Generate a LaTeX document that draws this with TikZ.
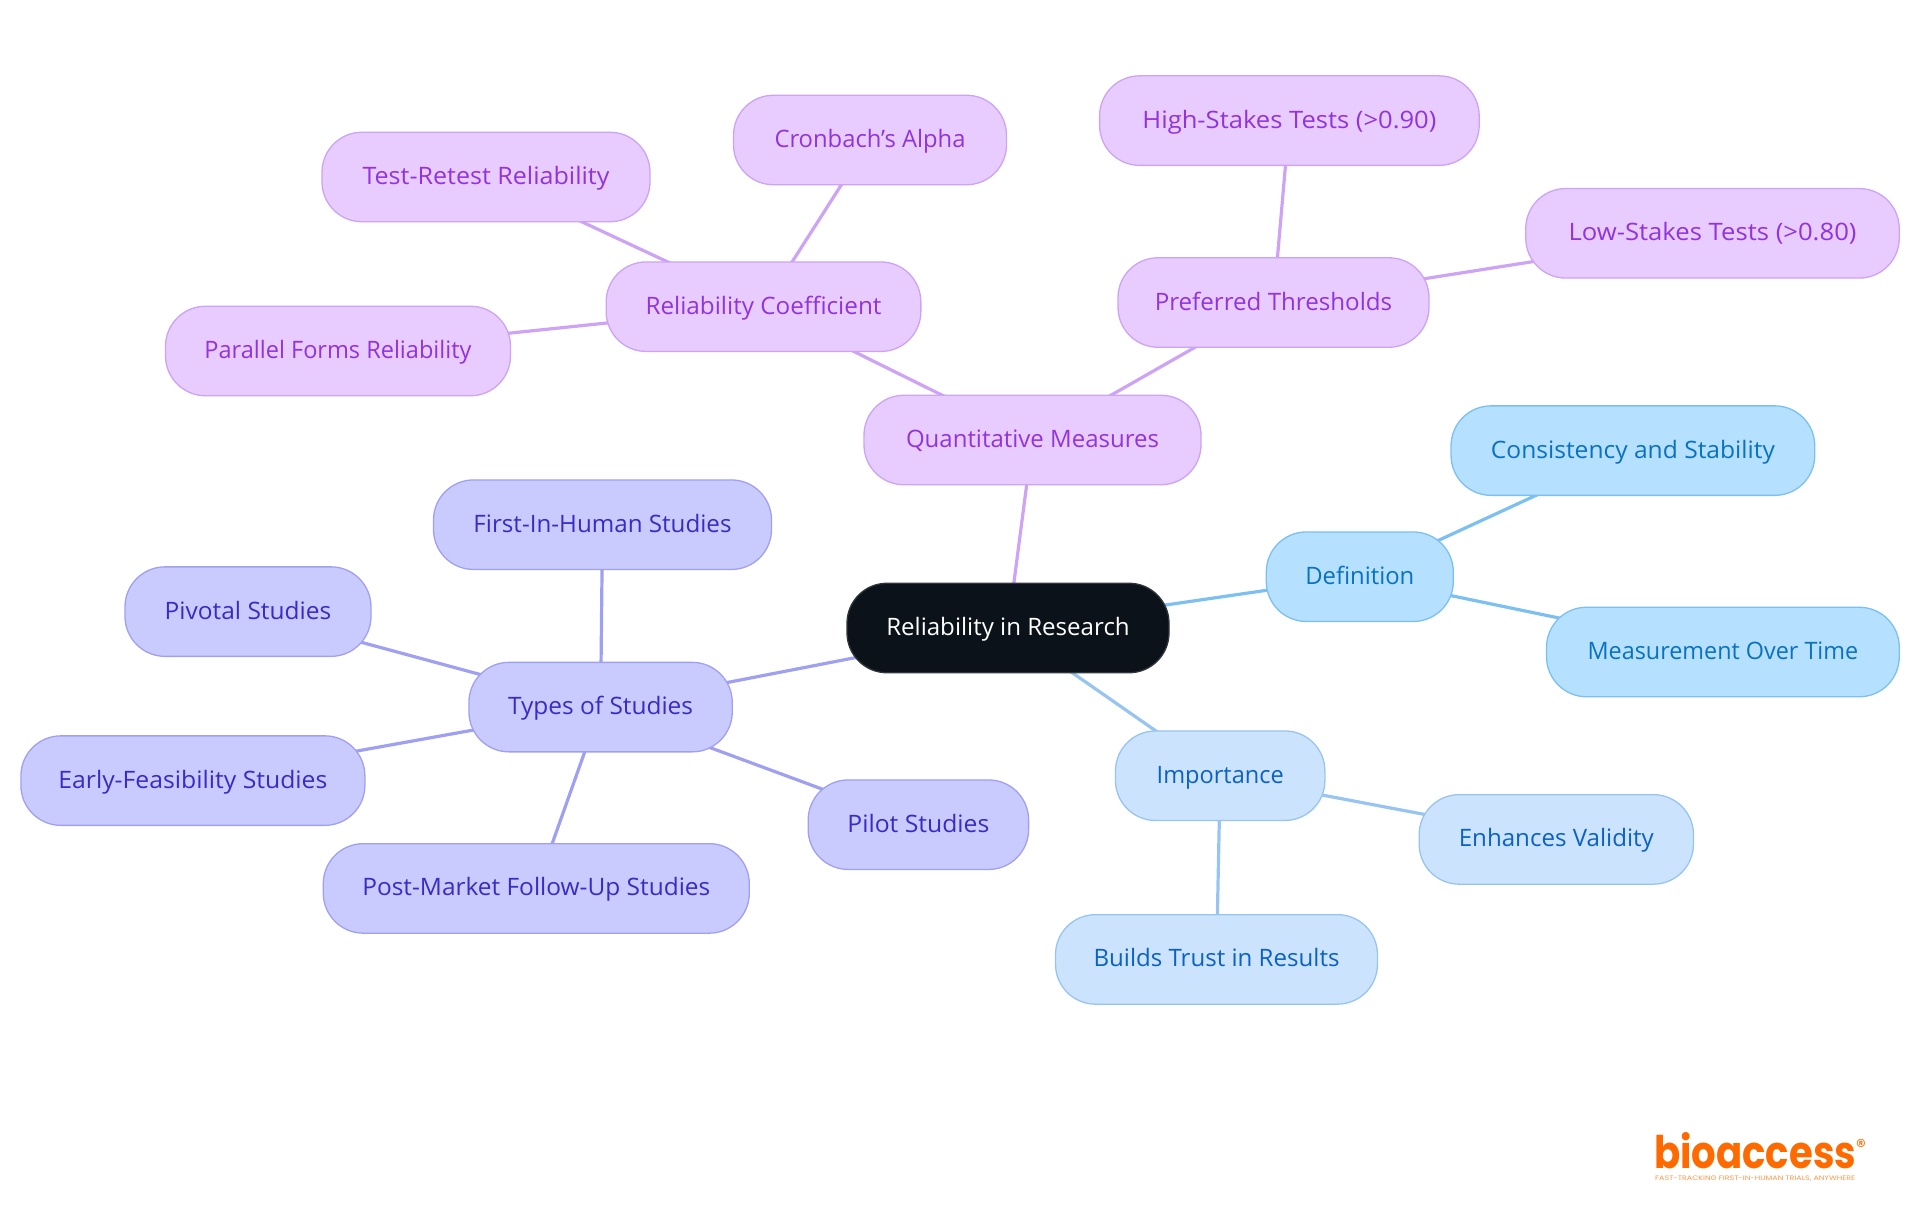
\documentclass[tikz,border=0pt]{standalone}
\usepackage{graphicx}
\usepackage{fontspec}
\setmainfont{Open Sans}
\newfontfamily\logofont{Poppins}
\usetikzlibrary{backgrounds}
\newcommand{\fitw}[2]{\resizebox{#1pt}{\height}{#2}}
\definecolor{pfill}{HTML}{E8CCFF}\definecolor{pline}{HTML}{CDA3F5}\definecolor{ptext}{HTML}{9333DB}
\definecolor{bfill}{HTML}{B5E0FF}\definecolor{bline}{HTML}{7CC0F2}\definecolor{btext}{HTML}{0A72BE}
\definecolor{lfill}{HTML}{CCE3FD}\definecolor{lline}{HTML}{98C4F2}\definecolor{ltext}{HTML}{0B62C4}
\definecolor{ifill}{HTML}{C9CBFF}\definecolor{iline}{HTML}{A0A0F2}\definecolor{itext}{HTML}{3A2BC4}
\definecolor{rootfill}{HTML}{0B121A}\definecolor{logoc}{HTML}{FF6A00}
\tikzset{
  mm/.style={rectangle,rounded corners=40pt,minimum height=89.5pt,inner sep=0pt,text height=19pt,text depth=4pt,line width=1.3pt,font=\fontsize{24}{28}\selectfont},
  rootn/.style={mm,fill=rootfill,draw=rootfill!85!white,text=white},
  pnode/.style={mm,fill=pfill,draw=pline,text=ptext},
  bnode/.style={mm,fill=bfill,draw=bline,text=btext},
  lnode/.style={mm,fill=lfill,draw=lline,text=ltext},
  inode/.style={mm,fill=ifill,draw=iline,text=itext},
  pconn/.style={draw=pline,line width=3.2pt},
  bconn/.style={draw=bline,line width=3.2pt},
  lconn/.style={draw=lline,line width=3.2pt},
  iconn/.style={draw=iline,line width=3.2pt},
}
\begin{document}
\begin{tikzpicture}[x=1pt,y=-1pt]
\useasboundingbox (0,0) rectangle (1920,1215);
\node[rootn,minimum width=322pt] (root) at (1008,628) {\fitw{243.5}{Reliability in Research}};
\node[pnode,minimum width=337pt] (quant) at (1032.5,440) {\fitw{253}{Quantitative Measures}};
\node[pnode,minimum width=314.7pt] (rel) at (763.5,306.7) {\fitw{236}{Reliability Coefficient}};
\node[pnode,minimum width=328pt] (test) at (486,177) {\fitw{247}{Test-Retest Reliability}};
\node[pnode,minimum width=273pt] (cron) at (870,140) {\fitw{191}{Cronbach's Alpha}};
\node[pnode,minimum width=345pt] (par) at (338,351) {\fitw{267}{Parallel Forms Reliability}};
\node[pnode,minimum width=311pt] (pref) at (1273.5,302.5) {\fitw{237.5}{Preferred Thresholds}};
\node[pnode,minimum width=379.6pt] (high) at (1289.4,120.6) {\fitw{294}{High-Stakes Tests (>0.90)}};
\node[pnode,minimum width=373.5pt] (low) at (1712.5,233.3) {\fitw{288}{Low-Stakes Tests (>0.80)}};
\node[bnode,minimum width=187pt] (def) at (1359.8,576.7) {\fitw{109}{Definition}};
\node[bnode,minimum width=363.7pt] (cons) at (1632.9,450.6) {\fitw{284}{Consistency and Stability}};
\node[bnode,minimum width=352.7pt] (meas) at (1722.9,652) {\fitw{270.6}{Measurement Over Time}};
\node[lnode,minimum width=209.4pt] (imp) at (1220.2,775.7) {\fitw{127}{Importance}};
\node[lnode,minimum width=274.3pt] (enh) at (1556.3,839.4) {\fitw{195}{Enhances Validity}};
\node[lnode,minimum width=322pt] (bld) at (1216.5,959.4) {\fitw{246}{Builds Trust in Results}};
\node[inode,minimum width=263.3pt] (types) at (600.6,707.1) {\fitw{185}{Types of Studies}};
\node[inode,minimum width=338pt] (first) at (602.5,524.7) {\fitw{258}{First-In-Human Studies}};
\node[inode,minimum width=246pt] (piv) at (248,611.6) {\fitw{166.5}{Pivotal Studies}};
\node[inode,minimum width=344pt] (early) at (192.9,780.6) {\fitw{269}{Early-Feasibility Studies}};
\node[inode,minimum width=426pt] (post) at (536.3,888.4) {\fitw{348}{Post-Market Follow-Up Studies}};
\node[inode,minimum width=220.4pt] (pilot) at (918.4,824.7) {\fitw{142}{Pilot Studies}};
\begin{scope}[on background layer]
\draw[pconn] (root.center) -- (quant.center);
\draw[pconn] (quant.center) -- (rel.center);
\draw[pconn] (quant.center) -- (pref.center);
\draw[pconn] (rel.center) -- (test.center);
\draw[pconn] (rel.center) -- (cron.center);
\draw[pconn] (rel.center) -- (par.center);
\draw[pconn] (pref.center) -- (high.center);
\draw[pconn] (pref.center) -- (low.center);
\draw[bconn] (root.center) -- (def.center);
\draw[bconn] (def.center) -- (cons.center);
\draw[bconn] (def.center) -- (meas.center);
\draw[lconn] (root.center) -- (imp.center);
\draw[lconn] (imp.center) -- (enh.center);
\draw[lconn] (imp.center) -- (bld.center);
\draw[iconn] (root.center) -- (types.center);
\draw[iconn] (types.center) -- (first.center);
\draw[iconn] (types.center) -- (piv.center);
\draw[iconn] (types.center) -- (early.center);
\draw[iconn] (types.center) -- (post.center);
\draw[iconn] (types.center) -- (pilot.center);
\end{scope}
\node[anchor=base west,inner sep=0pt,text=logoc,font=\logofont\bfseries\fontsize{42}{42}\selectfont] (logo) at (1654,1168) {\resizebox{202pt}{36pt}{bioaccess}};
\node[anchor=center,inner sep=0pt,text=logoc,font=\logofont\fontsize{20}{20}\selectfont] (reg) at (1861,1146) {®};
\node[anchor=base west,inner sep=0pt,text=logoc!70!white,font=\logofont\fontsize{6.5}{7}\selectfont] (tag) at (1655,1180) {\fitw{200}{FAST-TRACKING FIRST-IN-HUMAN TRIALS, ANYWHERE}};
\end{tikzpicture}
\end{document}
